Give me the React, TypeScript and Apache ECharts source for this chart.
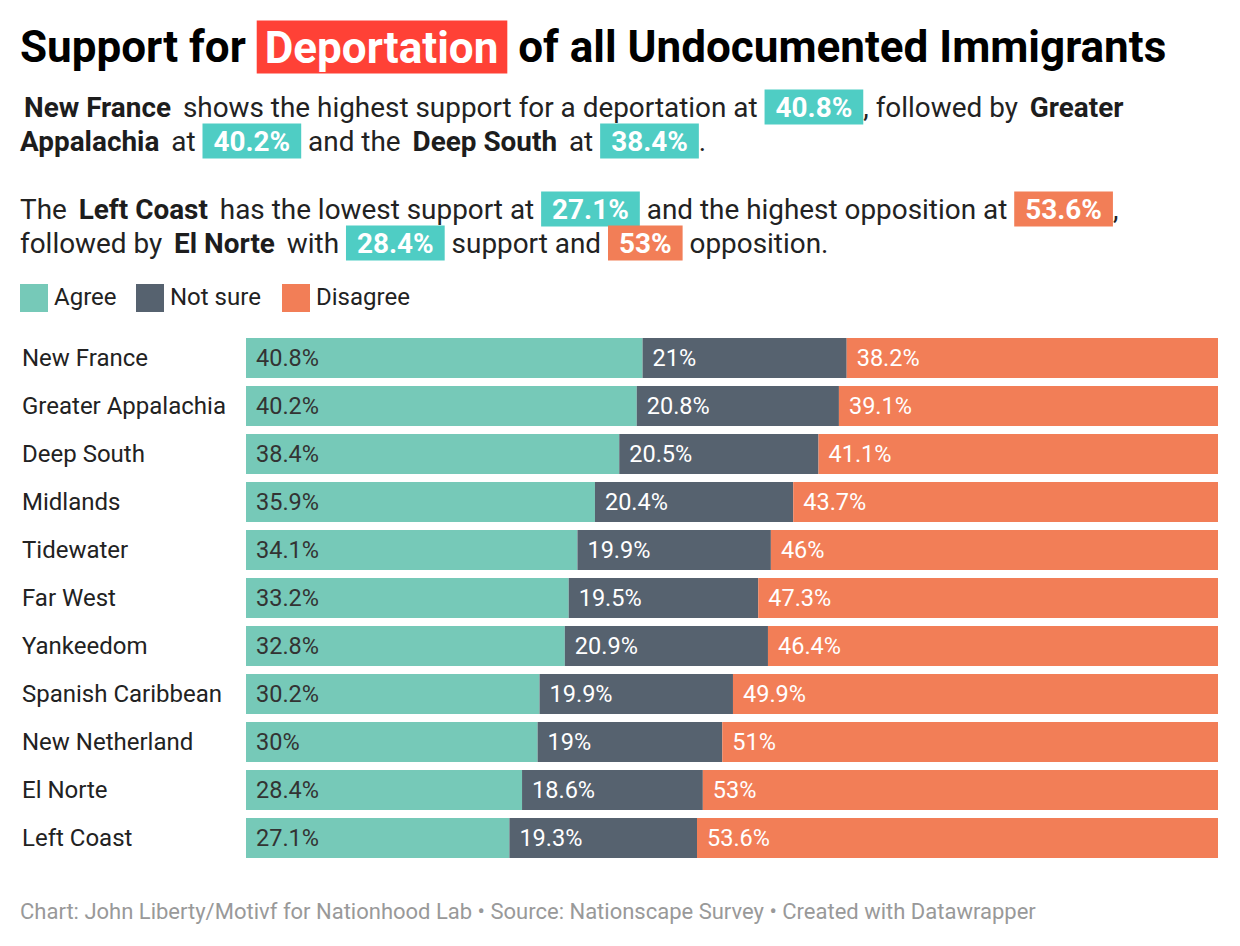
import React, { useEffect, useRef } from "react";
import * as echarts from "echarts";

const categories = [
  "New France",
  "Greater Appalachia",
  "Deep South",
  "Midlands",
  "Tidewater",
  "Far West",
  "Yankeedom",
  "Spanish Caribbean",
  "New Netherland",
  "El Norte",
  "Left Coast",
];
const agree = [40.8, 40.2, 38.4, 35.9, 34.1, 33.2, 32.8, 30.2, 30, 28.4, 27.1];
const notSure = [21, 20.8, 20.5, 20.4, 19.9, 19.5, 20.9, 19.9, 19, 18.6, 19.3];
const disagree = [38.2, 39.1, 41.1, 43.7, 46, 47.3, 46.4, 49.9, 51, 53, 53.6];
const seriesNames = ["Agree", "Not sure", "Disagree"];
const seriesColors = ["#76c9b8", "#56626f", "#f27e57"];

const FONT = "Roboto";
const PF = 27.9;

export default function App() {
  const ref = useRef<HTMLDivElement>(null);
  useEffect(() => {
    document.body.style.margin = "0";
    if (!ref.current) return;
    const chart = echarts.init(ref.current, null, { renderer: "svg" });
    const rich = {
      b: { fontFamily: FONT, fontSize: PF, fontWeight: "bold", fill: "#1d1d1d", padding: [0, 5, 0, 5] },
      t: {
        fontFamily: FONT, fontSize: PF, fontWeight: "bold", fill: "#ffffff",
        backgroundColor: "#4fcdc4", padding: [4, 11, 3, 11],
      },
      o: {
        fontFamily: FONT, fontSize: PF, fontWeight: "bold", fill: "#ffffff",
        backgroundColor: "#f27e57", padding: [4, 11, 3, 11],
      },
    };
    const para = (x: number, y: number, text: string) => ({
      type: "text",
      x,
      y,
      style: { text, rich, fontFamily: FONT, fontSize: PF, fill: "#222222", verticalAlign: "middle" },
    });
    const legendItems: any[] = [];
    const legendX = [20, 136, 282];
    seriesNames.forEach((n, i) => {
      legendItems.push({
        type: "rect",
        shape: { x: legendX[i], y: 284, width: 28, height: 28 },
        style: { fill: seriesColors[i] },
      });
      legendItems.push({
        type: "text",
        x: legendX[i] + 34,
        y: 297,
        style: { text: n, fontFamily: FONT, fontSize: 24, fill: "#222", verticalAlign: "middle" },
      });
    });
    const makeSeries = (name: string, data: number[], i: number) => ({
      name,
      type: "bar",
      stack: "total",
      data,
      barWidth: 40,
      itemStyle: { color: seriesColors[i] },
      label: {
        show: true,
        position: "insideLeft",
        distance: 10,
        formatter: "{c}%",
        fontFamily: FONT,
        fontSize: 23.5,
        color: i === 0 ? "#333333" : "#ffffff",
      },
      silent: true,
    });
    chart.setOption({
      animation: false,
      grid: { left: 246, right: 22, top: 334, height: 528, containLabel: false },
      xAxis: { type: "value", min: 0, max: 100, show: false },
      yAxis: {
        type: "category",
        data: categories,
        inverse: true,
        axisLine: { show: false },
        axisTick: { show: false },
        axisLabel: {
          align: "left",
          margin: 224,
          fontFamily: FONT,
          fontSize: 24,
          color: "#222222",
        },
      },
      series: [
        makeSeries(seriesNames[0], agree, 0),
        makeSeries(seriesNames[1], notSure, 1),
        makeSeries(seriesNames[2], disagree, 2),
      ],
      graphic: [
        {
          type: "text",
          x: 20,
          y: 47,
          style: {
            text: "Support for {r|Deportation} of all Undocumented Immigrants",
            fontFamily: FONT,
            fontSize: 44,
            fontWeight: "bold",
            fill: "#000",
            verticalAlign: "middle",
            rich: {
              r: {
                fontFamily: FONT, fontSize: 44, fontWeight: "bold", fill: "#fff",
                backgroundColor: "#ff4136", padding: [5, 9, 4, 8],
              },
            },
          },
        },
        para(19, 107, "{b|New France} shows the highest support for a deportation at {t|40.8%}, followed by {b|Greater}"),
        para(15, 141, "{b|Appalachia} at {t|40.2%} and the {b|Deep South} at {t|38.4%}."),
        para(20, 209, "The {b|Left Coast} has the lowest support at {t|27.1%} and the highest opposition at {o|53.6%},"),
        para(20, 243, "followed by {b|El Norte} with {t|28.4%} support and {o|53%} opposition."),
        ...legendItems,
        {
          type: "text",
          x: 20,
          y: 911,
          style: {
            text: "Chart: John Liberty/Motivf for Nationhood Lab \u2022 Source: Nationscape Survey \u2022 Created with Datawrapper",
            fontFamily: FONT,
            fontSize: 22,
            fill: "#999999",
            verticalAlign: "middle",
          },
        },
      ],
    });
    return () => chart.dispose();
  }, []);
  return <div ref={ref} style={{ width: 1240, height: 946 }} />;
}
